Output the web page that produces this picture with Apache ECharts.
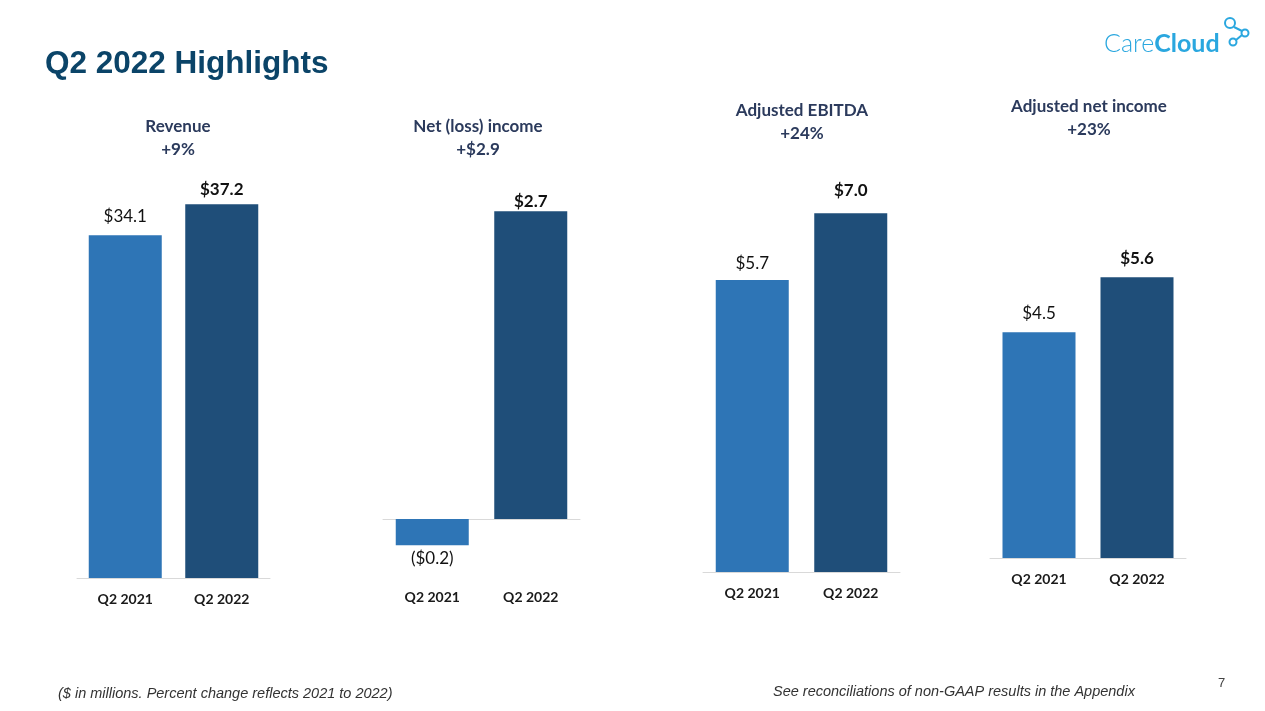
<!DOCTYPE html>
<html>
<head>
<meta charset="utf-8">
<script src="https://cdn.jsdelivr.net/npm/echarts@6/dist/echarts.min.js"></script>
<style>
  html, body { margin: 0; padding: 0; background: #fff; }
  #main { width: 1265px; height: 711px; }
</style>
</head>
<body>
<div id="main"></div>
<script>
// data
const categories = ['Q2 2021', 'Q2 2022']
const panelTitles = ['Revenue', 'Net (loss) income', 'Adjusted EBITDA', 'Adjusted net income']
const panelChanges = ['+9%', '+$2.9', '+24%', '+23%']
const revenue = [34.1, 37.2]
const netIncome = [-0.23, 2.7]
const adjEbitda = [5.7, 7.0]
const adjNetIncome = [4.5, 5.6]

const colors = ['#2e75b6', '#1f4e79']
const labelFont = 'Lato, "Noto Sans", sans-serif'

// layout per panel: grid box, y range, title spot, label gaps
const panels = [
  { left: 77, width: 193, top: 176, height: 402, min: 0, max: 40, data: revenue, titleX: 173, titleY: 110, gaps: [10, 6] },
  { left: 383, width: 197, top: 177, height: 399, min: -0.5, max: 3, data: netIncome, titleX: 473, titleY: 110, gaps: [5, 1] },
  { left: 703, width: 197, top: 162, height: 410, min: 0, max: 8, data: adjEbitda, titleX: 797, titleY: 94, gaps: [8, 14] },
  { left: 990, width: 196, top: 207, height: 351, min: 0, max: 7, data: adjNetIncome, titleX: 1084, titleY: 90, gaps: [10, 10] }
]

const fmt = v => {
  const s = '$' + Math.abs(v).toFixed(1)
  return v < 0 ? '(' + s + ')' : s
}

const grids = [], xAxes = [], yAxes = [], series = [], titles = []

panels.forEach((p, i) => {
  grids.push({ left: p.left, width: p.width, top: p.top, height: p.height })
  xAxes.push({
    gridIndex: i,
    type: 'category',
    data: categories,
    position: 'bottom',
    axisLine: { show: true, onZero: true, lineStyle: { color: '#d9d9d9', width: 1 } },
    axisTick: { show: false },
    axisLabel: {
      color: '#1a1a1a', fontSize: 14, fontWeight: 'bold', fontFamily: labelFont, margin: 14
    }
  })
  yAxes.push({ gridIndex: i, type: 'value', min: p.min, max: p.max, show: false, splitLine: { show: false } })
  series.push({
    type: 'bar',
    xAxisIndex: i,
    yAxisIndex: i,
    barWidth: 73,
    data: p.data.map((v, j) => ({
      value: v,
      itemStyle: { color: colors[j] },
      label: {
        show: true,
        position: v < 0 ? 'bottom' : 'top',
        distance: p.gaps[j],
        formatter: () => fmt(v),
        fontSize: 17,
        fontFamily: labelFont,
        fontWeight: j === 1 ? 'bold' : 'normal',
        color: '#111'
      }
    }))
  })
  titles.push({
    text: panelTitles[i] + '\n' + panelChanges[i],
    left: p.titleX,
    top: p.titleY,
    textAlign: 'center',
    textStyle: { color: '#2b3a5c', fontSize: 17, fontWeight: 'bold', fontFamily: labelFont, lineHeight: 23 }
  })
})

titles.push({
  text: 'Q2 2022 Highlights',
  left: 40,
  top: 43,
  textStyle: { color: '#0b4468', fontSize: 31.5, fontWeight: 'bold', fontFamily: 'Arial, "Liberation Sans", sans-serif' }
})

const chart = echarts.init(document.getElementById('main'))
chart.setOption({
  animation: false,
  title: titles,
  grid: grids,
  xAxis: xAxes,
  yAxis: yAxes,
  series: series,
  graphic: [
    {
      type: 'text', left: 58, top: 686,
      style: { text: '($ in millions. Percent change reflects 2021 to 2022)', fill: '#333',
        font: 'italic 14.5px Arial, "Liberation Sans", sans-serif' }
    },
    {
      type: 'text', left: 773, top: 684,
      style: { text: 'See reconciliations of non-GAAP results in the Appendix', fill: '#333',
        font: 'italic 14.5px Arial, "Liberation Sans", sans-serif' }
    },
    {
      type: 'text', left: 1218, top: 677,
      style: { text: '7', fill: '#444', font: '13px Arial, "Liberation Sans", sans-serif' }
    },
    // logo
    {
      type: 'text', left: 1104, top: 31,
      style: {
        text: '{a|Care}{b|Cloud}',
        rich: {
          a: { fill: '#2aa7df', font: '300 25px Lato, sans-serif' },
          b: { fill: '#2aa7df', font: 'bold 25px Lato, sans-serif' }
        }
      }
    },
    { type: 'circle', shape: { cx: 1230, cy: 23, r: 5 }, style: { fill: 'none', stroke: '#2aa7df', lineWidth: 2 } },
    { type: 'circle', shape: { cx: 1245, cy: 33, r: 3.5 }, style: { fill: 'none', stroke: '#2aa7df', lineWidth: 2 } },
    { type: 'circle', shape: { cx: 1233, cy: 42, r: 3.5 }, style: { fill: 'none', stroke: '#2aa7df', lineWidth: 2 } },
    { type: 'line', shape: { x1: 1234, y1: 27, x2: 1242, y2: 31 }, style: { stroke: '#2aa7df', lineWidth: 2 } },
    { type: 'line', shape: { x1: 1236, y1: 40, x2: 1242, y2: 35 }, style: { stroke: '#2aa7df', lineWidth: 2 } }
  ]
})
</script>
</body>
</html>
